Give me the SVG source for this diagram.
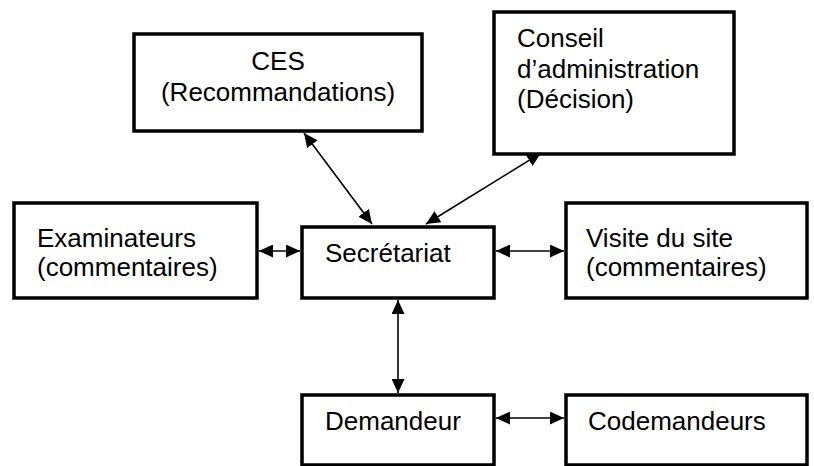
<svg xmlns="http://www.w3.org/2000/svg" width="814" height="466" viewBox="0 0 814 466">
<defs>
<style>
.box{fill:#fff;stroke:#000;stroke-width:3.5}
.t{font-family:"Liberation Sans",Arial,sans-serif;font-size:26px;fill:#000}
.c{text-anchor:middle}
.ln{stroke:#000;stroke-width:1.6;fill:none;marker-start:url(#a);marker-end:url(#a)}
</style>
<marker id="a" viewBox="0 0 14 13" refX="14" refY="6.5" markerWidth="14" markerHeight="13" markerUnits="userSpaceOnUse" orient="auto-start-reverse">
<path d="M0,0 L14,6.5 L0,13 Z" fill="#000"/>
</marker>
</defs>
<rect width="814" height="466" fill="#fff"/>
<g id="ces">
<rect class="box" x="134" y="34" width="288" height="97"/>
<text class="t c" x="278" y="70">CES</text>
<text class="t c" x="278" y="101">(Recommandations)</text>
</g>
<g id="conseil">
<rect class="box" x="494" y="12" width="240" height="142"/>
<text class="t" x="517" y="47">Conseil</text>
<text class="t" x="517" y="78">d’administration</text>
<text class="t" x="517" y="108">(Décision)</text>
</g>
<g id="examinateurs">
<rect class="box" x="14" y="203" width="243" height="95"/>
<text class="t" x="37" y="247">Examinateurs</text>
<text class="t" x="37" y="276">(commentaires)</text>
</g>
<g id="secretariat">
<rect class="box" x="302" y="227" width="192" height="71"/>
<text class="t" x="325" y="262">Secrétariat</text>
</g>
<g id="visite">
<rect class="box" x="566" y="203" width="241" height="95"/>
<text class="t" x="586" y="247">Visite du site</text>
<text class="t" x="586" y="276">(commentaires)</text>
</g>
<g id="demandeur">
<rect class="box" x="302" y="395" width="192" height="70"/>
<text class="t" x="325" y="430">Demandeur</text>
</g>
<g id="codemandeurs">
<rect class="box" x="566" y="395" width="241" height="70"/>
<text class="t" x="588" y="430">Codemandeurs</text>
</g>
<g id="connectors">
<line class="ln" x1="304" y1="133" x2="372" y2="224"/>
<line class="ln" x1="541" y1="153" x2="426" y2="224"/>
<line class="ln" x1="259" y1="251" x2="300" y2="251"/>
<line class="ln" x1="496" y1="251" x2="564" y2="251"/>
<line class="ln" x1="398" y1="300" x2="398" y2="393"/>
<line class="ln" x1="496" y1="418" x2="564" y2="418"/>
</g>
</svg>
